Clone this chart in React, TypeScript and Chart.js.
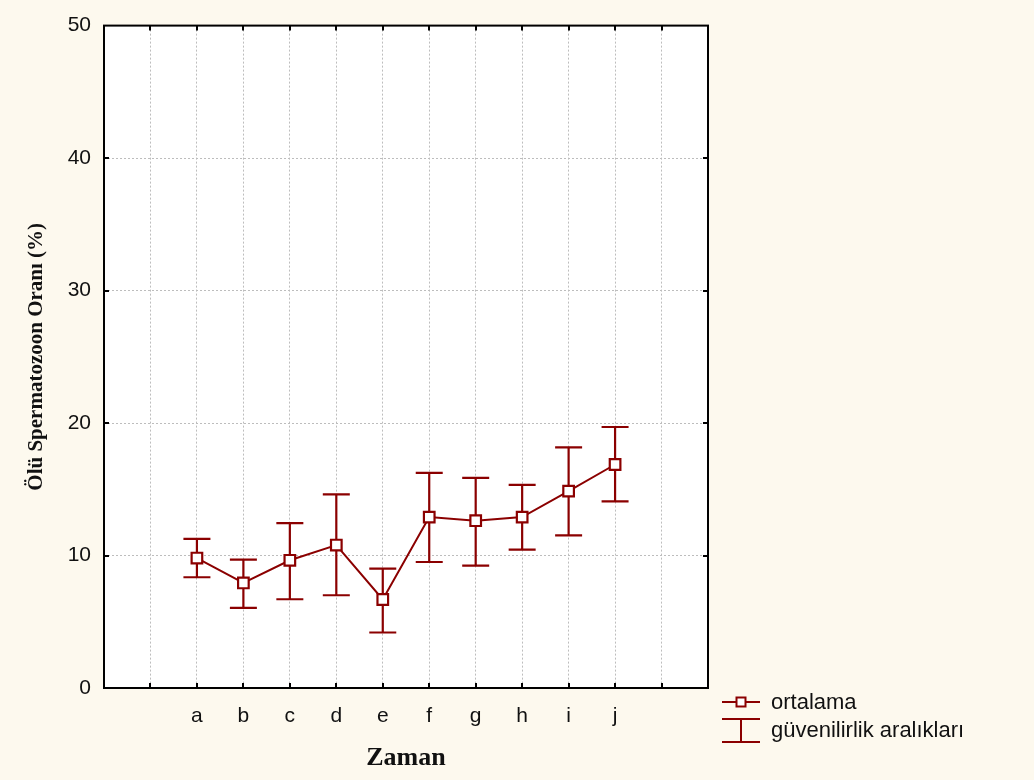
import React, { useEffect, useRef } from "react";
import { Chart, registerables } from "chart.js";

Chart.register(...registerables);

const categories = ["a", "b", "c", "d", "e", "f", "g", "h", "i", "j"];
const means = [9.81, 7.93, 9.64, 10.79, 6.68, 12.9, 12.63, 12.9, 14.86, 16.87];
const upperCI = [11.25, 9.69, 12.45, 14.61, 9.01, 16.24, 15.86, 15.34, 18.17, 19.7];
const lowerCI = [8.36, 6.05, 6.7, 7.0, 4.19, 9.51, 9.24, 10.44, 11.52, 14.08];
const emptyBefore = [" ", "  "];
const emptyAfter = ["   ", "    "];
const yTicks = [0, 10, 20, 30, 40, 50];
const legendLabels = ["ortalama", "güvenilirlik aralıkları"];
const yTitle = "Ölü Spermatozoon Oranı (%)";
const xTitle = "Zaman";

const RED = "#8b0000";
const CREAM = "#fdf9ee";
const GRID = "#bdbdbd";

const customPlugin = {
  id: "custom",
  beforeDraw(chart: any) {
    const { ctx, chartArea } = chart;
    ctx.save();
    ctx.fillStyle = CREAM;
    ctx.fillRect(0, 0, chart.width, chart.height);
    ctx.fillStyle = "#ffffff";
    ctx.fillRect(chartArea.left, chartArea.top, chartArea.right - chartArea.left, chartArea.bottom - chartArea.top);
    ctx.restore();
  },
  beforeDatasetsDraw(chart: any) {
    const { ctx } = chart;
    const xs = chart.scales.x;
    const ys = chart.scales.y;
    ctx.save();
    ctx.strokeStyle = RED;
    ctx.lineWidth = 2.2;
    categories.forEach((c, i) => {
      const x = xs.getPixelForValue(xs.getLabels().indexOf(c));
      const yu = ys.getPixelForValue(upperCI[i]);
      const yl = ys.getPixelForValue(lowerCI[i]);
      const hw = 13.5;
      ctx.beginPath();
      ctx.moveTo(x, yu);
      ctx.lineTo(x, yl);
      ctx.moveTo(x - hw, yu);
      ctx.lineTo(x + hw, yu);
      ctx.moveTo(x - hw, yl);
      ctx.lineTo(x + hw, yl);
      ctx.stroke();
    });
    ctx.restore();
  },
  afterDraw(chart: any) {
    const { ctx, chartArea } = chart;
    const { left, right, top, bottom } = chartArea;
    const xs = chart.scales.x;
    const ys = chart.scales.y;
    ctx.save();
    ctx.strokeStyle = "#000000";
    ctx.lineWidth = 2;
    ctx.strokeRect(left, top, right - left, bottom - top);
    const tl = 5;
    ctx.beginPath();
    const n = xs.getLabels().length;
    for (let i = 1; i < n - 1; i++) {
      const x = Math.round(xs.getPixelForValue(i));
      ctx.moveTo(x, bottom);
      ctx.lineTo(x, bottom - tl);
      ctx.moveTo(x, top);
      ctx.lineTo(x, top + tl);
    }
    yTicks.slice(1, -1).forEach((v) => {
      const y = Math.round(ys.getPixelForValue(v));
      ctx.moveTo(left, y);
      ctx.lineTo(left + tl, y);
      ctx.moveTo(right, y);
      ctx.lineTo(right - tl, y);
    });
    ctx.stroke();

    // legend
    const lx0 = 722;
    const lx1 = 760;
    const cx = (lx0 + lx1) / 2;
    ctx.strokeStyle = RED;
    ctx.lineWidth = 2;
    const y1 = 702;
    ctx.beginPath();
    ctx.moveTo(lx0, y1);
    ctx.lineTo(lx1, y1);
    ctx.stroke();
    ctx.fillStyle = "#ffffff";
    ctx.fillRect(cx - 4.5, y1 - 4.5, 9, 9);
    ctx.strokeRect(cx - 4.5, y1 - 4.5, 9, 9);
    const yT = 719;
    const yB = 742;
    ctx.beginPath();
    ctx.moveTo(lx0, yT);
    ctx.lineTo(lx1, yT);
    ctx.moveTo(cx, yT);
    ctx.lineTo(cx, yB);
    ctx.moveTo(lx0, yB);
    ctx.lineTo(lx1, yB);
    ctx.stroke();
    ctx.fillStyle = "#111111";
    ctx.font = '22px "Liberation Sans", Arial, sans-serif';
    ctx.textAlign = "left";
    ctx.textBaseline = "middle";
    ctx.fillText(legendLabels[0], 771, 703);
    ctx.fillText(legendLabels[1], 771, 731);
    ctx.restore();
  },
};

export default function App() {
  const ref = useRef<HTMLCanvasElement | null>(null);
  useEffect(() => {
    document.body.style.margin = "0";
    document.body.style.background = CREAM;
    const labels = [...emptyBefore, ...categories, ...emptyAfter];
    const chart = new Chart(ref.current as HTMLCanvasElement, {
      type: "line",
      data: {
        labels,
        datasets: [
          {
            label: legendLabels[0],
            data: categories.map((c, i) => ({ x: c, y: means[i] })) as any,
            borderColor: RED,
            borderWidth: 2,
            pointStyle: "rect",
            pointRadius: 7.5,
            pointHoverRadius: 7.5,
            pointBackgroundColor: "#ffffff",
            pointBorderColor: RED,
            pointBorderWidth: 2.2,
            tension: 0,
          },
        ],
      },
      options: {
        animation: false,
        responsive: false,
        events: [],
        layout: { padding: { left: 0, top: 24, right: 326, bottom: 0 } },
        plugins: { legend: { display: false }, tooltip: { enabled: false } },
        scales: {
          x: {
            type: "category",
            offset: false,
            grid: { color: GRID, lineWidth: 1, drawTicks: false },
            border: { display: false, dash: [2, 2] },
            ticks: {
              autoSkip: false,
              maxRotation: 0,
              padding: 16,
              color: "#111111",
              font: { family: '"Liberation Sans", Arial, sans-serif', size: 21 },
            },
            title: {
              display: true,
              text: xTitle,
              color: "#111111",
              font: { family: '"Liberation Serif", "Times New Roman", serif', size: 26, weight: "bold" },
              padding: { top: 0, bottom: 6 },
            },
            afterFit: (s: any) => {
              s.height = 92;
            },
          },
          y: {
            type: "linear",
            min: 0,
            max: 50,
            afterBuildTicks: (s: any) => {
              s.ticks = yTicks.map((v) => ({ value: v }));
            },
            grid: { color: GRID, lineWidth: 1, drawTicks: false },
            border: { display: false, dash: [2, 2] },
            ticks: {
              padding: 13,
              color: "#111111",
              font: { family: '"Liberation Sans", Arial, sans-serif', size: 21 },
            },
            title: {
              display: true,
              text: yTitle,
              color: "#111111",
              font: { family: '"Liberation Serif", "Times New Roman", serif', size: 21, weight: "bold" },
              padding: { top: 24, bottom: 0 },
            },
            afterFit: (s: any) => {
              s.width = 104;
            },
          },
        },
      },
      plugins: [customPlugin],
    });
    return () => chart.destroy();
  }, []);
  return (
    <div style={{ width: 1034, height: 780 }}>
      <canvas ref={ref} width={1034} height={780} style={{ display: "block" }} />
    </div>
  );
}
